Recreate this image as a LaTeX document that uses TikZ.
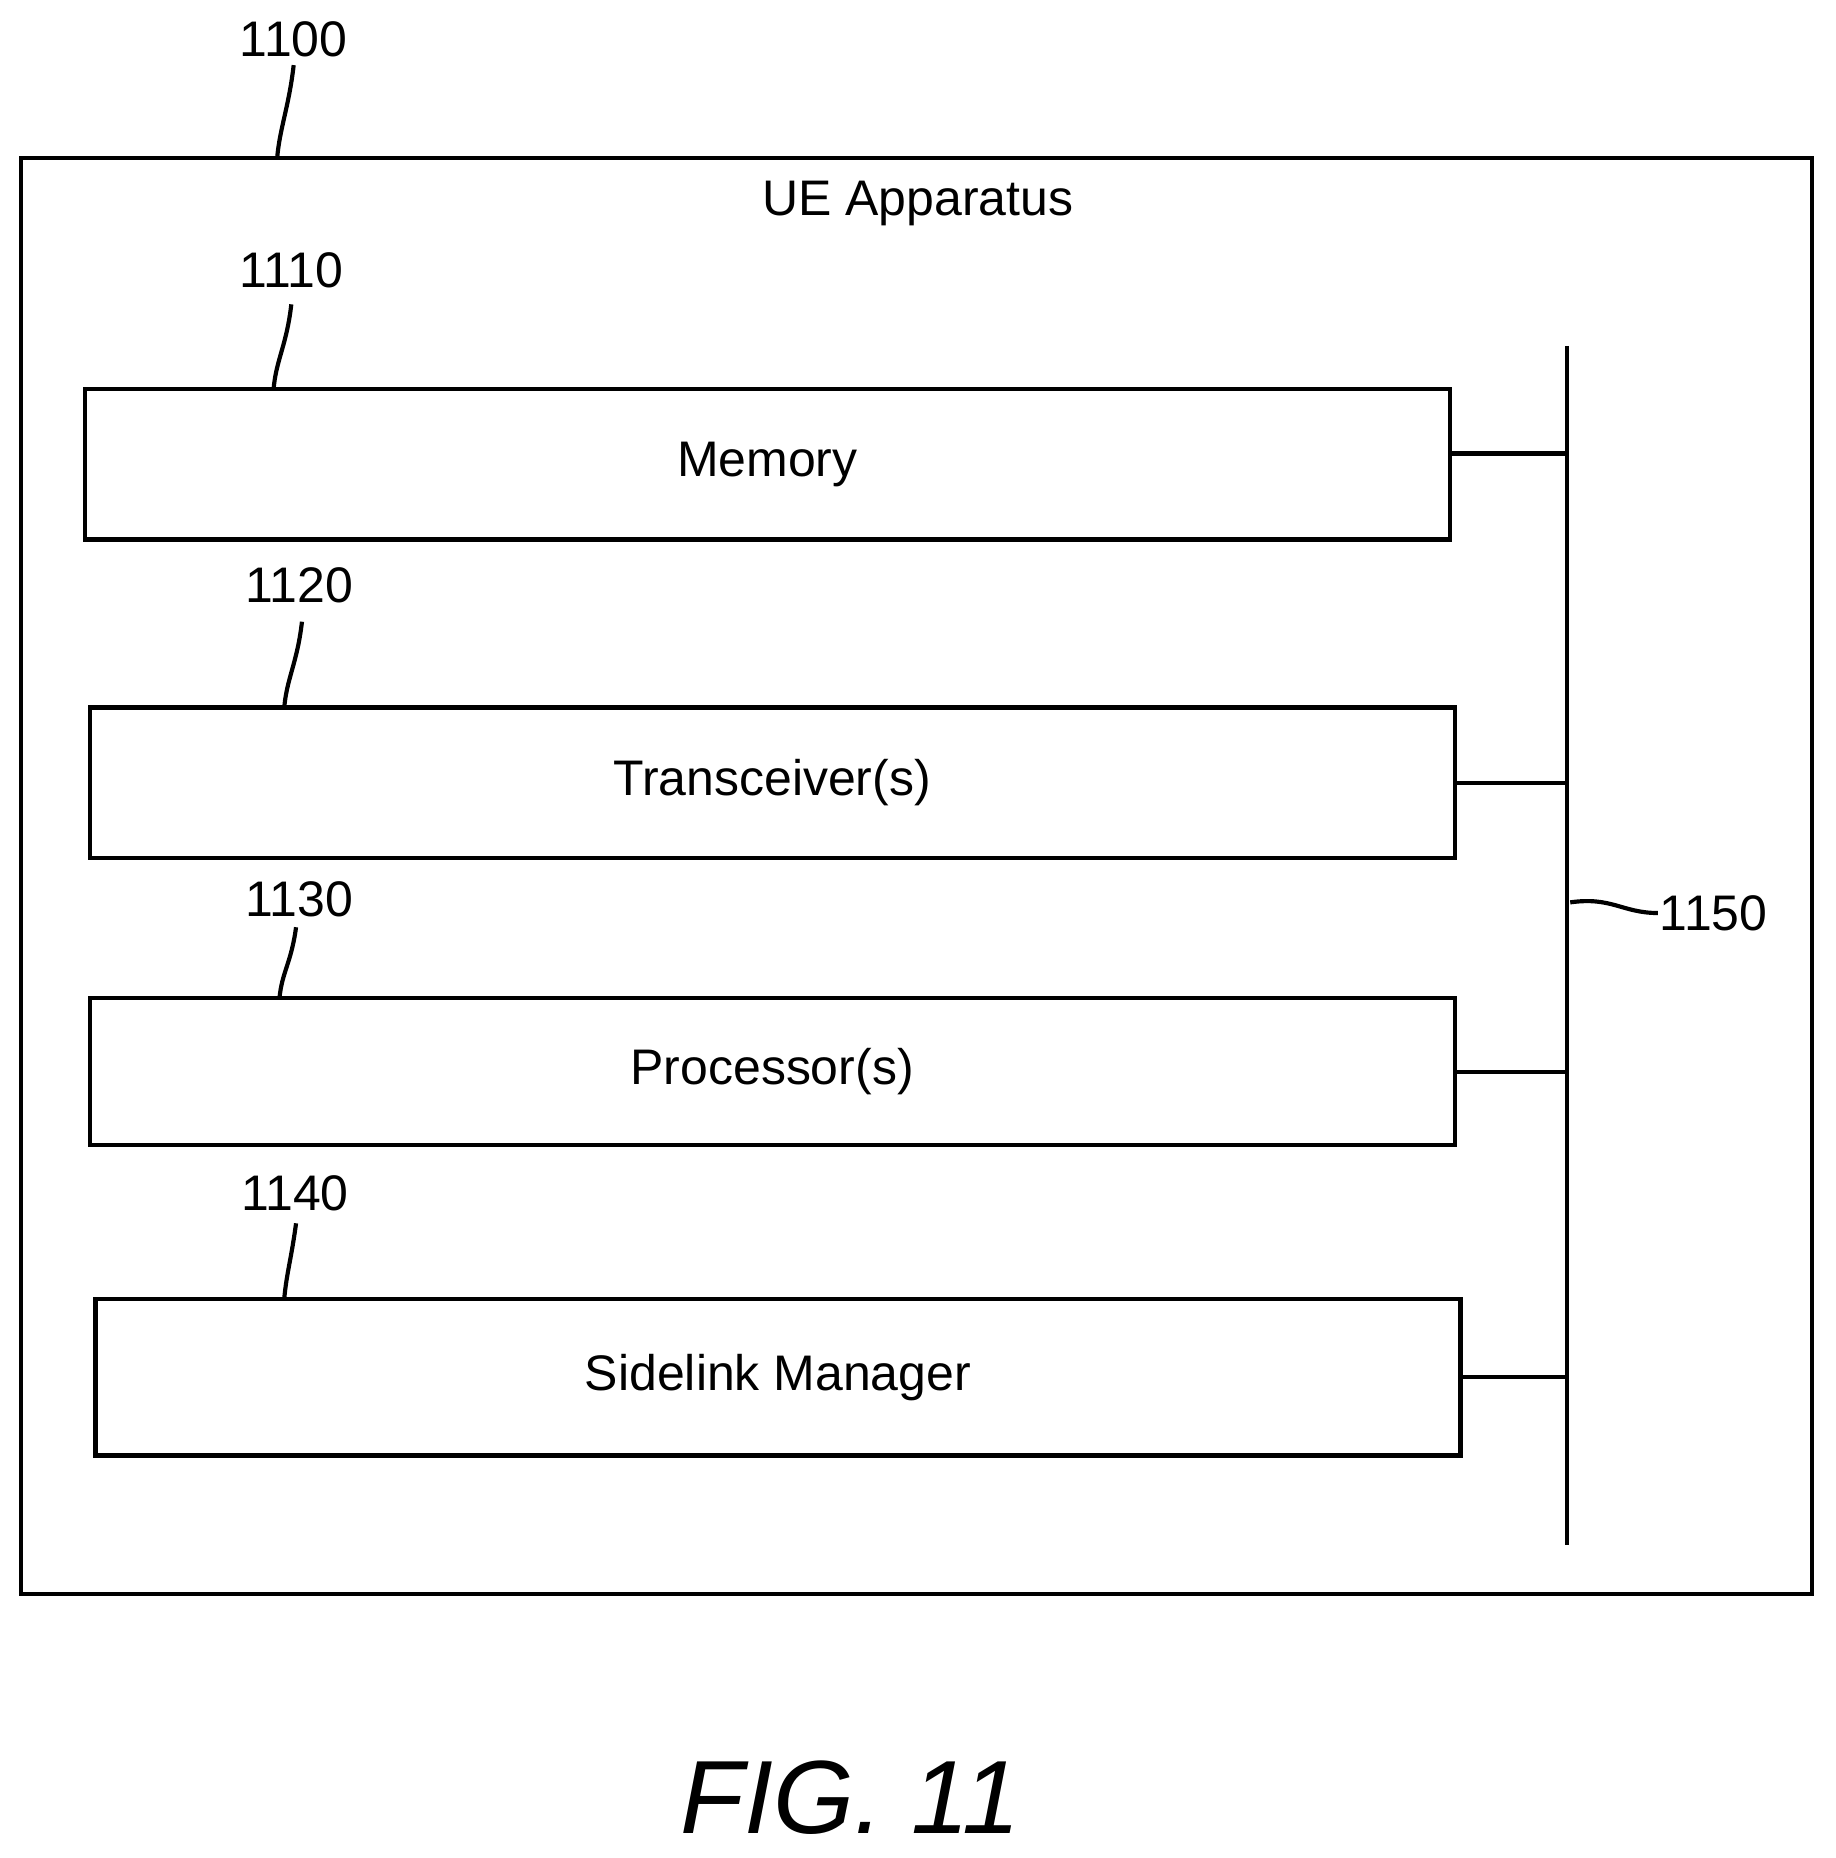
\documentclass[tikz,border=0pt]{standalone}
\usepackage{fontspec}
\setmainfont{Liberation Sans}
\begin{document}
\begin{tikzpicture}[x=0.01cm,y=-0.01cm,line width=1pt,
    blk/.style={draw,rectangle,line width=1pt,inner sep=0pt,font=\fontsize{12}{14}\selectfont},
    refno/.style={font=\fontsize{12}{14}\selectfont},
    lead/.style={line width=1pt}]
      \useasboundingbox (0,0) rectangle (1550,1569);

      % outer apparatus
      \node[blk,minimum width=15.12cm,minimum height=12.12cm] (ue) at (774,740) {};
      \node[refno] at (775,172) {UE Apparatus};

      % component blocks
      \node[blk,minimum width=11.52cm,minimum height=1.27cm] (mem) at (648,392) {Memory};
      \node[blk,minimum width=11.52cm,minimum height=1.27cm] (trx) at (652,661) {Transceiver(s)};
      \node[blk,minimum width=11.52cm,minimum height=1.24cm] (proc) at (652,905) {Processor(s)};
      \node[blk,minimum width=11.52cm,minimum height=1.32cm] (slm) at (657,1163) {Sidelink Manager};

      % bus
      \coordinate (bustop) at (1323,292);
      \coordinate (busbot) at (1323,1305);
      \draw (bustop) -- (busbot);
      \draw ([yshift=0.09cm]mem.east) -- ([yshift=0.09cm]mem.east -| bustop);
      \foreach \b in {trx,proc,slm}
        \draw (\b.east) -- (\b.east -| bustop);

      % reference numerals
      \node[refno] (n1100) at (248,33) {1100};
      \node[refno] (n1110) at (246,228) {1110};
      \node[refno] (n1120) at (253,494) {1120};
      \node[refno] (n1130) at (253,759) {1130};
      \node[refno] (n1140) at (249,1008) {1140};
      \node[refno,anchor=west,inner sep=0pt] (n1150) at (1400,771) {1150};

      \draw[lead] (248,55) .. controls +(-4,35) and +(2,-25) .. (234,134);
      \draw[lead] (246,257) .. controls +(-4,35) and +(2,-25) .. (231,329);
      \draw[lead] (255,525) .. controls +(-4,35) and +(2,-25) .. (240,598);
      \draw[lead] (250,783) .. controls +(-4,30) and +(2,-22) .. (236,843);
      \draw[lead] (250,1033) .. controls +(-4,30) and +(2,-22) .. (240,1097);
      \draw[lead] (1326,762) .. controls +(35,-5) and +(-30,0) .. (n1150.west);

      \node[font=\fontsize{25}{30}\selectfont\itshape] (fig) at (718,1518) {FIG. 11};
\end{tikzpicture}
\end{document}
